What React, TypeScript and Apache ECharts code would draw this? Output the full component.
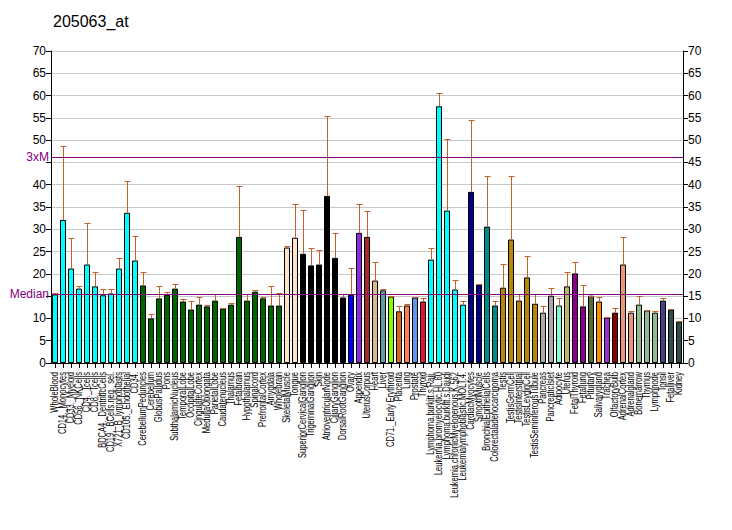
import React, { useEffect, useRef } from "react";
import * as echarts from "echarts";

const categories = [
  "WholeBlood", "CD14._Monocytes", "CD33._Myeloid", "CD56._NKCells", "CD4._Tcells", "CD8._Tcells",
  "BDCA4._DentriticCells", "CD19._BCells.neg._sel.", "X721_B_lymphoblasts", "CD105._Endothelial", "CD34.",
  "CerebellumPeduncles", "Cerebellum", "GlobusPallidus", "Pons", "SubthalamicNucleus", "TemporalLobe",
  "OccipitalLobe", "CingulateCortex", "MedullaOblongata", "ParietalLobe", "Caudatenucleus", "Thalamus",
  "Fetalbrain", "Hypothalamus", "Spinalcord", "PrefrontalCortex", "Amygdala", "Wholebrain",
  "SkeletalMuscle", "Tongue", "SuperiorCervicalGanglion", "TrigeminalGanglion", "Skin",
  "AtrioventricularNode", "CiliaryGanglion", "DorsalRootGanglion", "Ovary", "Appendix", "UterusCorpus",
  "Heart", "Liver", "CD71._Early Erythroid", "Placenta", "Lung", "Prostate", "Thyroid",
  "Lymphoma.burkitt.s.Raji.", "Leukemia.promyelocytic.HL.60", "Lymphoma.burkitt.s.Daudi",
  "Leukemia.chronicMyelogenous.K.562", "Leukemialymphoblastic.MOLT.4.", "CardiacMyocytes", "SmoothMuscle",
  "BronchialEpithelialCells", "Colorectaladenocarcinoma", "Testis", "TestisGermCell", "TestisInterstitial",
  "TestisLeydigCell", "TestisSeminiferousTubule", "Pancreas", "PancreaticIslet", "Adipocyte", "Uterus",
  "FetalThyroid", "Fetallung", "Pituitary", "Salivarygland", "Trachea", "OlfactoryBulb", "AdrenalCortex",
  "Adrenalgland", "Bonemarrow", "Thymus", "Lymphnode", "Tonsil", "Fetalliver", "Kidney",
];

const values = [
  15.4, 32.1, 21.2, 16.7, 22.1, 17.2, 15.2, 15.6, 21.2, 33.7, 23.0,
  17.4, 10.0, 14.5, 15.3, 16.7, 13.8, 12.0, 13.1, 12.7, 14.0, 12.2, 13.1,
  28.3, 14.0, 16.0, 14.5, 12.9, 12.9,
  25.9, 28.1, 24.5, 21.9, 22.1, 37.5, 23.6, 14.7, 15.3, 29.2, 28.3,
  18.5, 16.3, 14.9, 11.6, 12.9, 14.7, 13.8,
  23.2, 57.6, 34.2, 16.5, 13.1, 38.4, 17.6, 30.6, 12.9,
  16.9, 27.7, 14.0, 19.2, 13.3, 11.3, 15.1, 12.9, 17.2,
  20.1, 12.7, 15.1, 13.8, 10.2, 11.3, 22.1, 11.3, 13.1, 11.8, 11.3, 14.0, 12.0, 9.3,
];

const errorTops = [
  15.6, 48.7, 28.0, 17.3, 31.5, 20.5, 16.7, 16.7, 23.6, 40.9, 28.6,
  20.5, 10.9, 17.2, 16.0, 17.8, 14.3, 14.0, 14.9, 13.1, 15.5, 12.4, 13.5,
  39.7, 15.5, 16.3, 14.7, 17.3, 15.7,
  26.2, 35.7, 34.4, 25.9, 25.4, 55.4, 29.2, 15.5, 21.4, 35.7, 34.2,
  22.7, 16.7, 15.1, 12.7, 13.3, 14.7, 14.5,
  25.9, 60.6, 50.3, 18.7, 14.0, 54.5, 17.8, 42.0, 13.8,
  22.3, 42.0, 15.4, 23.9, 15.5, 12.7, 16.9, 14.5, 20.5,
  22.7, 17.6, 15.1, 14.9, 10.4, 12.4, 28.3, 11.7, 15.1, 12.0, 11.7, 14.5, 12.2, 9.5,
];

const barColors = [
  ...Array(11).fill("#00FFFF"),
  ...Array(18).fill("#006400"),
  "#FFE4C4", "#FFE4C4",
  ...Array(6).fill("#000000"),
  "#0000FF", "#8A2BE2", "#A52A2A", "#DEB887", "#5F9EA0", "#7FFF00", "#D2691E", "#FF7F50", "#6495ED", "#DC143C",
  ...Array(5).fill("#00FFFF"),
  "#00008B", "#00008B", "#008B8B", "#008B8B",
  ...Array(5).fill("#B8860B"),
  "#A9A9A9", "#A9A9A9", "#7FFFD4", "#BDB76B", "#8B008B", "#8B008B", "#556B2F", "#FF8C00", "#9932CC", "#8B0000",
  "#E9967A", "#E9967A", "#8FBC8F", "#8FBC8F", "#8FBC8F", "#483D8B", "#2F4F4F", "#2F4F4F",
];

const medianValue = 15.4;
const threeXM = 46.2;
const yTicks = [0, 5, 10, 15, 20, 25, 30, 35, 40, 45, 50, 55, 60, 65, 70];

export default function App() {
  const ref = useRef<HTMLDivElement>(null);
  useEffect(() => {
    if (!ref.current) return;
    const chart = echarts.init(ref.current, null, { renderer: "svg" });
    const font = "Liberation Sans, Arial, sans-serif";
    const yAxisBase = {
      type: "value",
      min: 0,
      max: 70,
      interval: 5,
      axisLine: { show: true, lineStyle: { color: "#000" } },
      axisTick: { show: true, length: 5, lineStyle: { color: "#000" } },
    };
    chart.setOption({
      animation: false,
      backgroundColor: "#fff",
      title: {
        text: "205063_at",
        left: 48,
        top: 8,
        textStyle: { fontFamily: font, fontSize: 16, fontWeight: "normal", color: "#000" },
      },
      grid: { left: 51, right: 49, top: 51, bottom: 167, containLabel: false, outerBoundsMode: "none" },
      xAxis: {
        type: "category",
        data: categories,
        boundaryGap: true,
        axisLine: { show: true, lineStyle: { color: "#000" } },
        axisTick: { show: true, alignWithLabel: true, length: 5, interval: 0, lineStyle: { color: "#000" } },
        axisLabel: { show: false },
      },
      yAxis: [
        {
          ...yAxisBase,
          position: "left",
          splitLine: { show: true, lineStyle: { color: "#C8C8C8", width: 1 } },
          axisLabel: {
            fontFamily: font,
            fontSize: 12,
            color: "#000",
            margin: 5,
            formatter: (v: number) => (v === 15 || v === 45 ? "" : String(v)),
          },
        },
        {
          ...yAxisBase,
          position: "right",
          splitLine: { show: false },
          axisLabel: {
            fontFamily: font,
            fontSize: 12,
            color: "#000",
            margin: 5,
            formatter: (v: number) => (yTicks.includes(v) ? String(v) : ""),
          },
        },
      ],
      series: [
        {
          type: "bar",
          data: values.map((v, i) => ({ value: v, itemStyle: { color: barColors[i] } })),
          barWidth: 6,
          itemStyle: { borderColor: "#000", borderWidth: 1 },
          z: 2,
          markLine: {
            silent: true,
            symbol: "none",
            z: 5,
            lineStyle: { color: "#800080", width: 1, type: "solid" },
            label: {
              show: true,
              position: "start",
              color: "#800080",
              fontFamily: font,
              fontSize: 12,
              distance: 2,
            },
            data: [
              { yAxis: medianValue, label: { formatter: "Median" } },
              { yAxis: threeXM, label: { formatter: "3xM" } },
            ],
          },
        },
        {
          type: "custom",
          z: 3,
          data: values.map((v, i) => [i, v, errorTops[i]]),
          renderItem: (params: any, api: any) => {
            const idx = api.value(0);
            const base = api.coord([idx, api.value(1)]);
            const top = api.coord([idx, api.value(2)]);
            const stroke = "#C0622A";
            const x = Math.round(top[0]) + 0.5;
            const yt = Math.round(top[1]) + 0.5;
            return {
              type: "group",
              children: [
                {
                  type: "line",
                  shape: { x1: x, y1: base[1], x2: x, y2: yt },
                  style: { stroke, lineWidth: 1 },
                },
                {
                  type: "line",
                  shape: { x1: x - 3, y1: yt, x2: x + 3, y2: yt },
                  style: { stroke, lineWidth: 1 },
                },
              ],
            };
          },
        },
      ],
    });

    // Category labels: rotated, horizontally condensed text placed via the axis scale
    const yBase = chart.convertToPixel({ yAxisIndex: 0 }, 0) as number;
    const labelEls = categories.map((name, i) => {
      const x = chart.convertToPixel({ xAxisIndex: 0 }, i) as number;
      return {
        type: "text",
        x: x,
        y: yBase + 9,
        rotation: Math.PI / 2,
        scaleX: 0.72,
        silent: true,
        style: {
          text: name,
          fontFamily: font,
          fontSize: 10.5,
          fill: "#000",
          align: "right",
          verticalAlign: "middle",
        },
      };
    });
    chart.setOption({ graphic: labelEls });

    return () => chart.dispose();
  }, []);
  return <div ref={ref} style={{ width: 732, height: 530, position: "absolute", left: 0, top: 0 }} />;
}
